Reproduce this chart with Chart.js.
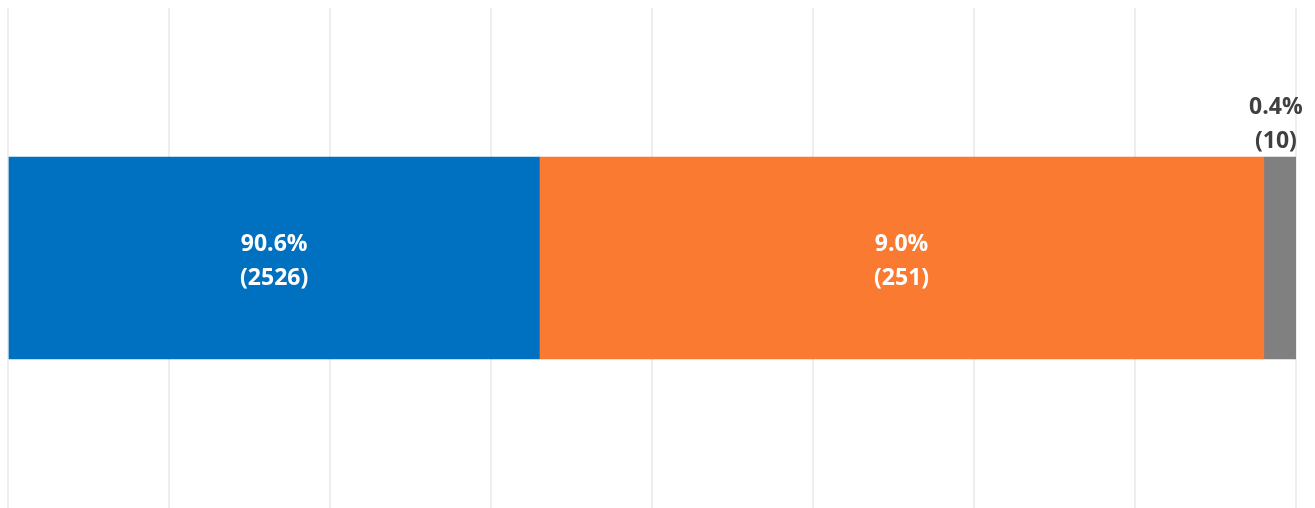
<!DOCTYPE html>
<html>
<head>
<meta charset="utf-8">
<script src="https://cdn.jsdelivr.net/npm/chart.js@4.4.1/dist/chart.umd.min.js"></script>
<style>
    html, body { margin: 0; padding: 0; background: #fff; }
    #wrap { width: 1315px; height: 508px; }
</style>
</head>
<body>
<div id="wrap"><canvas id="myChart"></canvas></div>
<script>
// data
const categories = [''];
const seriesNames = ['A', 'B', 'C'];
const barLengths = [3.3, 4.5, 0.2];
const percents = ['90.6%', '9.0%', '0.4%'];
const counts = [2526, 251, 10];
const colors = ['#0070C0', '#F97A30', '#808080'];
const xTicks = [0, 1, 2, 3, 4, 5, 6, 7, 8];

const labelPlugin = {
    id: 'segLabels',
    afterDatasetsDraw(chart) {
        const ctx = chart.ctx;
        ctx.save();
        ctx.font = 'bold 23px "Open Sans", Lato, sans-serif';
        ctx.textAlign = 'center';
        ctx.textBaseline = 'middle';
        chart.data.datasets.forEach((ds, i) => {
            const bar = chart.getDatasetMeta(i).data[0];
            const lines = [percents[i], '(' + counts[i] + ')'];
            const x = (bar.x + bar.base) / 2;
            const w = Math.abs(bar.x - bar.base);
            if (w > 80) {
                ctx.fillStyle = '#ffffff';
                ctx.fillText(lines[0], x, bar.y - 14);
                ctx.fillText(lines[1], x, bar.y + 20);
            } else {
                // small slice: label sits above the bar
                ctx.fillStyle = '#404040';
                const top = bar.y - bar.height / 2;
                ctx.fillText(lines[0], x - 4, top - 50);
                ctx.fillText(lines[1], x - 4, top - 16);
            }
        });
        ctx.restore();
    }
};

new Chart('myChart', {
    type: 'bar',
    data: {
        labels: categories,
        datasets: seriesNames.map((name, i) => ({
            label: name,
            data: [barLengths[i]],
            backgroundColor: colors[i],
            borderWidth: 0,
            barThickness: 202
        }))
    },
    options: {
        indexAxis: 'y',
        responsive: true,
        maintainAspectRatio: false,
        animation: false,
        layout: { padding: { left: 8, right: 19, top: 8, bottom: 0 } },
        plugins: {
            legend: { display: false },
            tooltip: { enabled: false }
        },
        scales: {
            x: {
                stacked: true,
                min: xTicks[0],
                max: xTicks[xTicks.length - 1],
                ticks: { display: false, stepSize: 1 },
                grid: { color: '#eeeeee', lineWidth: 2, drawTicks: false },
                border: { display: false }
            },
            y: {
                stacked: true,
                display: false
            }
        }
    },
    plugins: [labelPlugin]
});
</script>
</body>
</html>
